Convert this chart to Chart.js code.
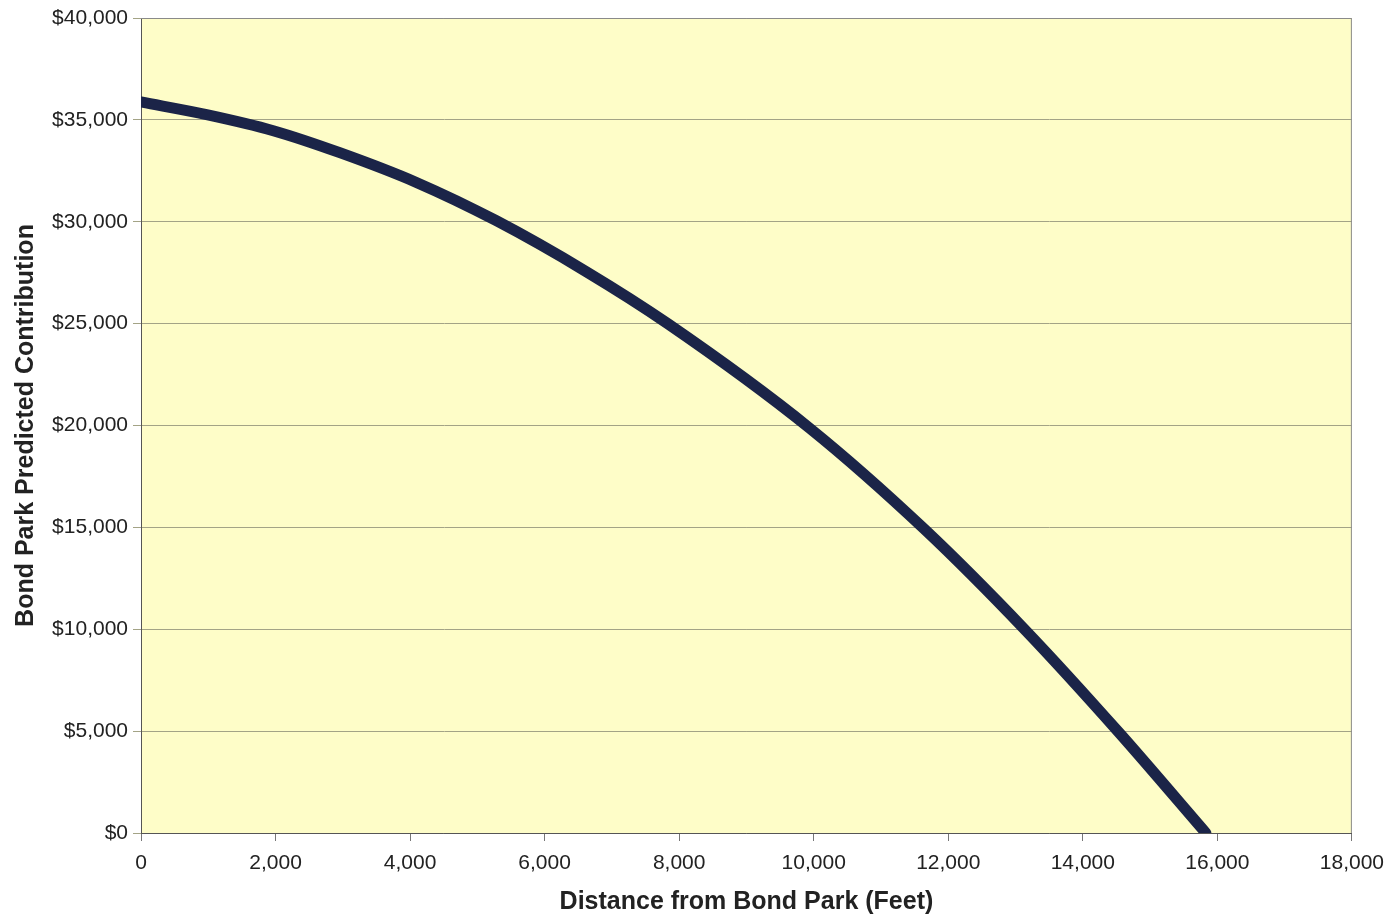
<!DOCTYPE html>
<html>
<head>
<meta charset="utf-8">
<script src="https://cdn.jsdelivr.net/npm/chart.js@4.4.1/dist/chart.umd.min.js"></script>
<style>
html,body{margin:0;padding:0;background:#fff;}
#wrap{width:1394px;height:920px;position:relative;}
</style>
</head>
<body>
<div id="wrap"><canvas id="c" width="1394" height="920"></canvas></div>
<script>
// Distance from Bond Park (feet) and predicted contribution ($)
const distanceFeet = [0, 975, 1966, 2955, 4094, 5282, 6620, 7830, 9936, 11644, 13154, 14541, 15830];
const contribution = [35880, 35260, 34470, 33390, 31930, 30050, 27550, 25000, 19880, 14920, 9930, 4920, 0];
const xTickMax = 18000, xTickStep = 2000;
const yTickMax = 40000, yTickStep = 5000;
const xTitle = 'Distance from Bond Park (Feet)';
const yTitle = 'Bond Park Predicted Contribution';

const points = distanceFeet.map((d, i) => ({x: d, y: contribution[i]}));

const plotBg = {
  id: 'plotBg',
  beforeDraw(chart) {
    const {ctx, chartArea: a} = chart;
    ctx.save();
    ctx.fillStyle = '#FEFDC8';
    ctx.fillRect(a.left, a.top, a.right - a.left, a.bottom - a.top);
    ctx.restore();
  },
  beforeDatasetsDraw(chart) {
    const {ctx, chartArea: a} = chart;
    ctx.save();
    ctx.strokeStyle = '#8a8a8a';
    ctx.lineWidth = 1;
    ctx.beginPath();
    ctx.moveTo(a.left, a.top + 0.5);
    ctx.lineTo(a.right - 0.5, a.top + 0.5);
    ctx.lineTo(a.right - 0.5, a.bottom);
    ctx.stroke();
    ctx.restore();
  }
};

const fontFam = '"Liberation Sans", Arial, Helvetica, sans-serif';

new Chart(document.getElementById('c'), {
  type: 'scatter',
  data: {
    datasets: [{
      data: points,
      showLine: true,
      borderColor: '#1B2448',
      borderWidth: 11,
      borderCapStyle: 'round',
      borderJoinStyle: 'round',
      pointRadius: 0,
      cubicInterpolationMode: 'monotone',
      fill: false
    }]
  },
  options: {
    responsive: false,
    animation: false,
    devicePixelRatio: 1,
    layout: {padding: {top: 18, right: 39, bottom: 0, left: 0}},
    plugins: {legend: {display: false}, tooltip: {enabled: false}},
    scales: {
      x: {
        type: 'linear',
        min: 0, max: xTickMax,
        afterFit(s) { s.height = 87; },
        ticks: {
          stepSize: xTickStep,
          color: '#222',
          font: {family: fontFam, size: 21},
          padding: 10,
          maxRotation: 0,
          callback: v => v.toLocaleString('en-US')
        },
        grid: {drawOnChartArea: false, drawTicks: true, tickLength: 8, color: '#777'},
        border: {display: true, color: '#555', width: 1},
        title: {
          display: true, text: xTitle, color: '#222',
          font: {family: fontFam, size: 25, weight: 'bold'},
          padding: {top: 0, bottom: 3}
        }
      },
      y: {
        type: 'linear',
        min: 0, max: yTickMax,
        afterFit(s) { s.width = 141; },
        ticks: {
          stepSize: yTickStep,
          color: '#222',
          font: {family: fontFam, size: 21},
          padding: 5,
          callback: v => '$' + v.toLocaleString('en-US')
        },
        grid: {drawOnChartArea: true, drawTicks: true, tickLength: 8, color: '#A3A386', lineWidth: 1},
        border: {display: true, color: '#555', width: 1},
        title: {
          display: true, text: yTitle, color: '#222',
          font: {family: fontFam, size: 25, weight: 'bold'},
          padding: {top: 11, bottom: 0}
        }
      }
    }
  },
  plugins: [plotBg]
});
</script>
</body>
</html>
